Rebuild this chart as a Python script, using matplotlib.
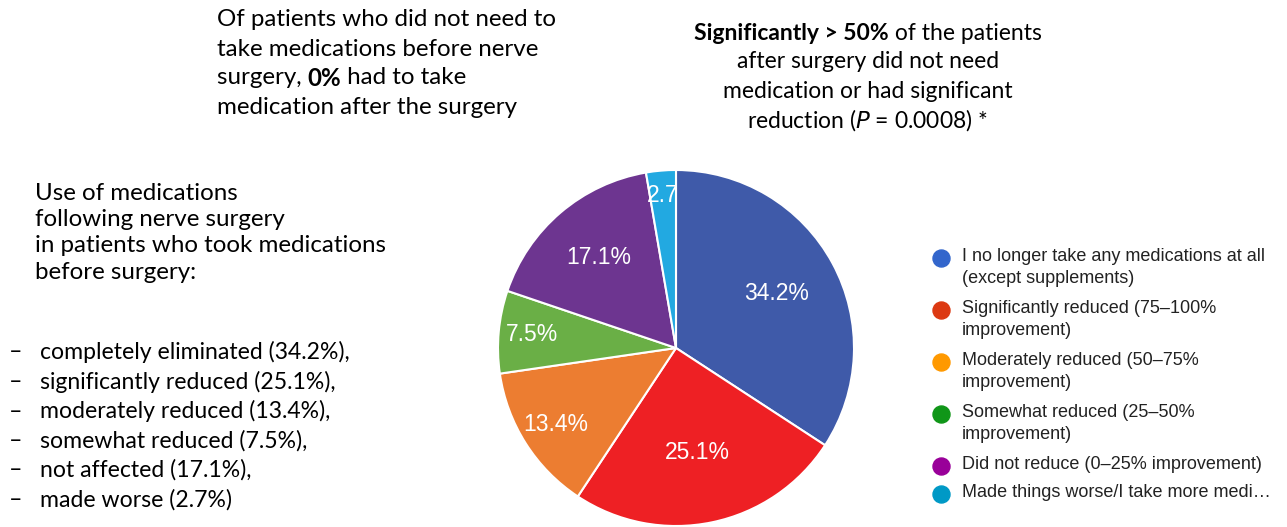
import numpy as np
import matplotlib
matplotlib.use("Agg")
import matplotlib.pyplot as plt

# data
shares = [34.2, 25.1, 13.4, 7.5, 17.1, 2.7]
pie_labels = ["34.2%", "25.1%", "13.4%", "7.5%", "17.1%", "2.7"]
legend_labels = [
    "I no longer take any medications at all\n(except supplements)",
    "Significantly reduced (75\u2013100%\nimprovement)",
    "Moderately reduced (50\u201375%\nimprovement)",
    "Somewhat reduced (25\u201350%\nimprovement)",
    "Did not reduce (0\u201325% improvement)",
    "Made things worse/I take more medi\u2026",
]
summary_items = [
    "completely eliminated (34.2%),",
    "significantly reduced (25.1%),",
    "moderately reduced (13.4%),",
    "somewhat reduced (7.5%),",
    "not affected (17.1%),",
    "made worse (2.7%)",
]

wedge_colors = ["#3F5AA9", "#EE2024", "#EC7D31", "#6AAF46", "#6D3590", "#22A9E1"]
legend_colors = ["#3366CC", "#DC3912", "#FF9900", "#109618", "#990099", "#0099C6"]
label_dist = [0.64, 0.60, 0.80, 0.81, 0.67, 0.86]

W, H = 1287, 527
fig = plt.figure(figsize=(W / 100, H / 100), dpi=100)
fig.patch.set_facecolor("white")

# text layer in pixel coordinates (y from top)
tx = fig.add_axes([0, 0, 1, 1])
tx.set_xlim(0, W)
tx.set_ylim(H, 0)
tx.axis("off")

body = "Lato"
lsize = 17.4   # top-left note and intro
rsize = 16.5   # top-right note
isize = 16.6   # bullet list

# top left note
tx.text(217, 20, "Of patients who did not need to", fontsize=lsize, family=body, va="center")
tx.text(217, 49, "take medications before nerve", fontsize=lsize, family=body, va="center")
t = tx.text(217, 78, "surgery, ", fontsize=lsize, family=body, va="center")
fig.canvas.draw()
r = fig.canvas.get_renderer()
x2 = 217 + t.get_window_extent(r).width
t2 = tx.text(x2, 78, "0%", fontsize=lsize, family=body, weight="bold", va="center")
tx.text(x2 + t2.get_window_extent(r).width, 78, " had to take", fontsize=lsize,
        family=body, va="center")
tx.text(217, 107, "medication after the surgery", fontsize=lsize, family=body, va="center")

# top right note (centered)
tx.text(868, 62, "after surgery did not need", fontsize=rsize, family=body, va="center", ha="center")
tx.text(868, 91, "medication or had significant", fontsize=rsize, family=body, va="center", ha="center")
tx.text(868, 120, "reduction ($\\it{P}$ = 0.0008) *", fontsize=rsize, family=body, va="center", ha="center")
a = tx.text(0, 33, "Significantly > 50%", fontsize=rsize, family=body, weight="bold", va="center")
b = tx.text(0, 33, " of the patients", fontsize=rsize, family=body, va="center")
fig.canvas.draw()
wa = a.get_window_extent(r).width
wb = b.get_window_extent(r).width
start = 868 - (wa + wb) / 2
a.set_x(start)
b.set_x(start + wa)

# left explanation
intro = ["Use of medications", "following nerve surgery",
         "in patients who took medications", "before surgery:"]
for i, line in enumerate(intro):
    tx.text(35, 193 + i * 26.5, line, fontsize=lsize, family=body, va="center")
for i, item in enumerate(summary_items):
    y = 352 + i * 29.5
    tx.text(9, y, "\u2013", fontsize=isize, family=body, va="center")
    tx.text(40, y, item, fontsize=isize, family=body, va="center")

# legend
ly = [258, 310, 362, 414, 466, 494]
for lab, col, y in zip(legend_labels, legend_colors, ly):
    tx.scatter([941], [y], s=150, color=col, zorder=3)
    tx.text(962, y - 10, lab, fontsize=13, family="Liberation Sans", va="top",
            color="#222222", linespacing=1.38)

# pie
cx, cy, rad = 676, 348, 178
pax = fig.add_axes([(cx - rad) / W, (H - cy - rad) / H, 2 * rad / W, 2 * rad / H])
wedges, _ = pax.pie(shares, colors=wedge_colors, startangle=90, counterclock=False,
                    radius=1.0, wedgeprops=dict(edgecolor="white", linewidth=1.5))
pax.set_xlim(-1, 1)
pax.set_ylim(-1, 1)
pax.set_aspect("equal")
pax.axis("off")
for w, lab, d in zip(wedges, pie_labels, label_dist):
    ang = np.deg2rad((w.theta1 + w.theta2) / 2)
    pax.text(d * np.cos(ang), d * np.sin(ang), lab, color="white", fontsize=16.5,
             family="Liberation Sans", ha="center", va="center")

fig.savefig("out.png", dpi=100)
